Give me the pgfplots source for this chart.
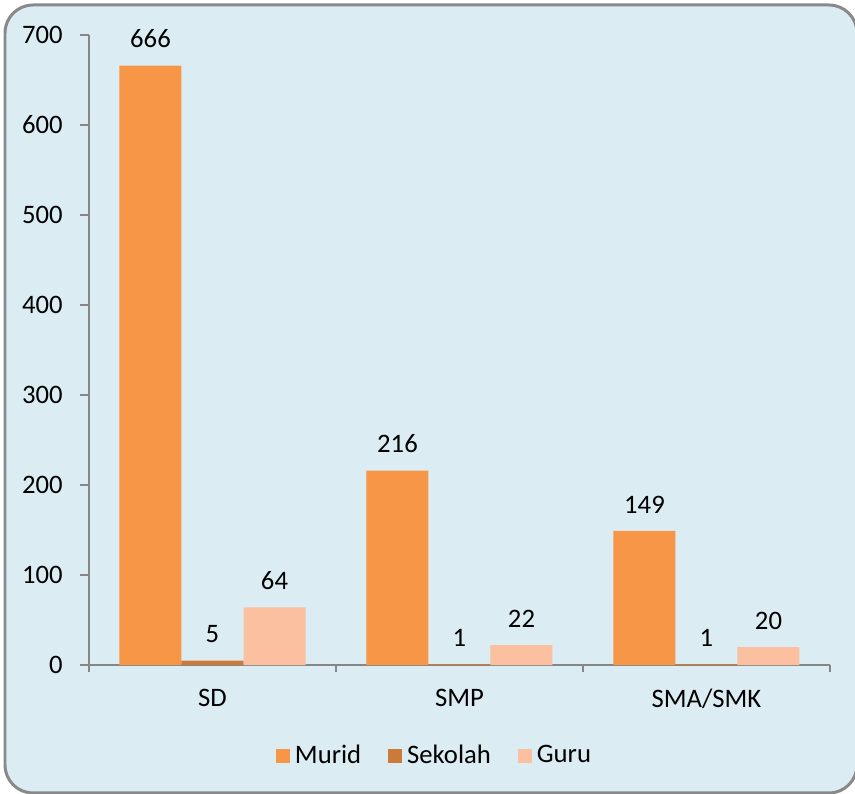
\documentclass[border=0pt]{standalone}
\usepackage{pgfplots}
\pgfplotsset{compat=1.18}
\usepackage{fontspec}
\setmainfont{Carlito}
\definecolor{bgc}{RGB}{219,237,243}
\definecolor{framec}{RGB}{137,137,137}
\definecolor{axc}{RGB}{134,134,134}
\definecolor{murid}{RGB}{247,150,70}
\definecolor{sekolah}{RGB}{204,122,58}
\definecolor{guru}{RGB}{250,192,159}
\begin{document}
\begin{tikzpicture}
\fontsize{10}{12}\selectfont
\useasboundingbox (0,0) rectangle (320.625pt,297.75pt);
\begin{scope}
\clip (0,0) rectangle (320.625pt,297.75pt);
\draw[framec, line width=1.125pt, fill=bgc, rounded corners=10.5pt] (1.875pt,0.375pt) rectangle (321.375pt,295.875pt);
\end{scope}
\begin{axis}[
  at={(33.375pt,48.375pt)}, anchor=south west,
  scale only axis, width=277.875pt, height=236.25pt,
  ybar=0pt, bar width=23.25pt,
  xmin=-0.5, xmax=2.5, ymin=0, ymax=700,
  axis lines*=left,
  axis line style={axc, line width=0.75pt},
  every tick/.style={axc, line width=0.75pt},
  tick align=outside,
  xtick={0,1,2}, xticklabels={SD,SMP,SMA/SMK},
  major x tick style={draw=none},
  minor xtick={-0.5,0.5,1.5,2.5},
  minor tick length=2.625pt,
  ytick={0,100,...,700},
  major tick length=3.375pt,
  /pgf/number format/assume math mode=true,
  ticklabel style={font=\fontsize{10}{12}\selectfont},
  xticklabel style={yshift=-2pt},
  yticklabel style={xshift=-3pt},
  nodes near coords,
  nodes near coords style={font=\fontsize{10}{12}\selectfont, text=black, yshift=3pt, /pgf/number format/assume math mode=true},
  legend columns=3,
  legend style={at={(0.4683,-0.1444)}, anchor=center, draw=none, fill=bgc,
    font=\fontsize{10}{12}\selectfont, /tikz/every even column/.append style={column sep=8pt}},
  legend image code/.code={\fill[#1] (0pt,-2.6pt) rectangle (5.25pt,2.65pt);},
]
\addplot[draw=none, fill=murid] coordinates {(0,666) (1,216) (2,149)};
\addplot[draw=none, fill=sekolah] coordinates {(0,5) (1,1) (2,1)};
\addplot[draw=none, fill=guru] coordinates {(0,64) (1,22) (2,20)};
\legend{Murid,Sekolah,Guru}
\end{axis}
\end{tikzpicture}
\end{document}
